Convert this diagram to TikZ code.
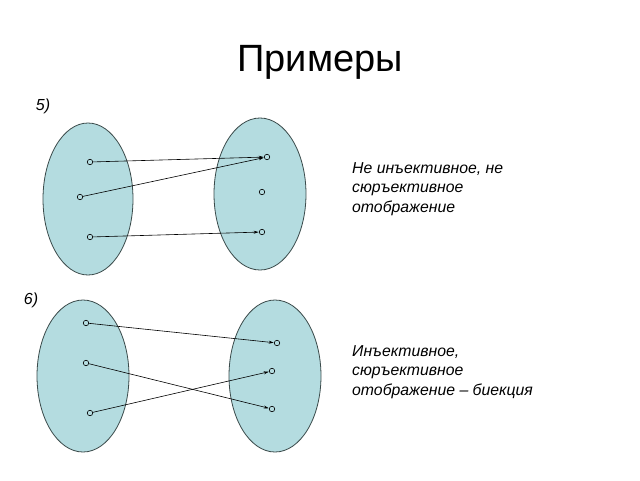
\documentclass[tikz,border=0pt]{standalone}
\usepackage{fontspec}
\setmainfont{Liberation Sans}
\usetikzlibrary{arrows.meta}
\definecolor{setfill}{HTML}{B4DCE0}
\definecolor{setline}{HTML}{3A4A4A}
\begin{document}
\begin{tikzpicture}[x=1pt,y=-1pt,
  setell/.style={draw=setline,fill=setfill,line width=0.8pt},
  pt/.style={circle,draw=black,line width=0.6pt,inner sep=0pt,minimum size=5.5pt},
  mapto/.style={-{Stealth[length=5pt,width=3pt]},line width=0.6pt,shorten >=0.3pt},
  lbl/.style={font=\itshape\fontsize{15.8}{19.5}\selectfont,align=left,anchor=north west,inner sep=0pt}]
\useasboundingbox (0,0) rectangle (640,480);
\node[font=\fontsize{38}{44}\selectfont] (title) at (320,62) {Примеры};
\node[font=\itshape\fontsize{16}{18}\selectfont] (n5) at (43,106) {5)};
\node[font=\itshape\fontsize{16}{18}\selectfont] (n6) at (31,300) {6)};
% top pair
\draw[setell] (88,199) ellipse [x radius=45,y radius=76];
\draw[setell] (260,194) ellipse [x radius=46,y radius=76];
\node[pt] (a1) at (90,162) {};
\node[pt] (a2) at (80,197) {};
\node[pt] (a3) at (90,237) {};
\node[pt] (b1) at (267,157) {};
\node[pt] (b2) at (262,192) {};
\node[pt] (b3) at (262,232) {};
\draw[mapto] (a1) -- (b1);
\draw[mapto] (a2) -- (b1);
\draw[mapto] (a3) -- (b3);
\node[lbl] (t1) at (352,162) {Не инъективное, не\\сюръективное\\отображение};
% bottom pair
\draw[setell] (83,376) ellipse [x radius=46,y radius=76];
\draw[setell] (275,376) ellipse [x radius=46,y radius=76];
\node[pt] (c1) at (86,323) {};
\node[pt] (c2) at (86,363) {};
\node[pt] (c3) at (90,413) {};
\node[pt] (d1) at (277,343) {};
\node[pt] (d2) at (272,371) {};
\node[pt] (d3) at (272,409) {};
\draw[mapto] (c1) -- (d1);
\draw[mapto] (c2) -- (d3);
\draw[mapto] (c3) -- (d2);
\node[lbl] (t2) at (352,345) {Инъективное,\\сюръективное\\отображение -- биекция};
\end{tikzpicture}
\end{document}
